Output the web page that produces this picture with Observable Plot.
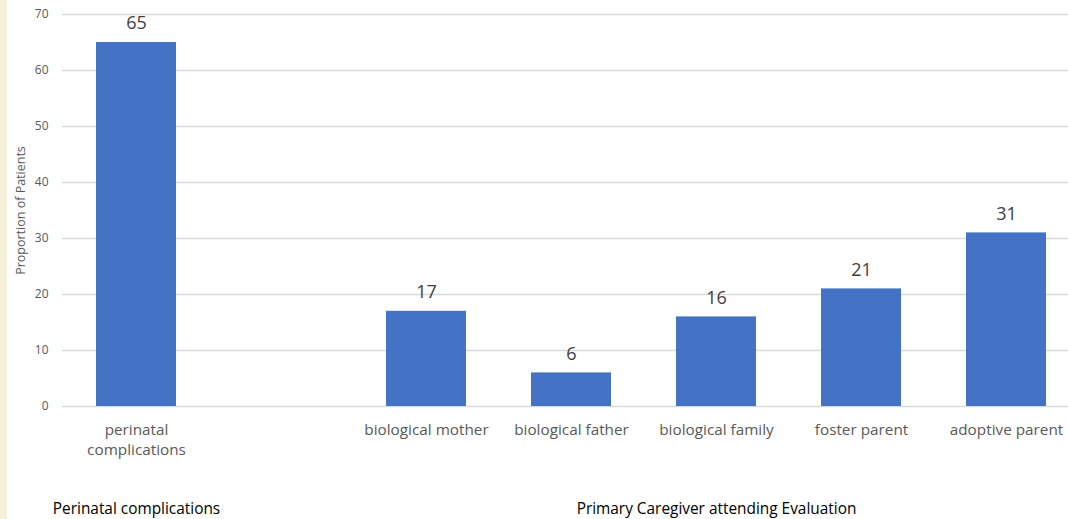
<!DOCTYPE html>
<html>
<head>
<meta charset="utf-8">
<script src="https://cdn.jsdelivr.net/npm/d3@7"></script>
<script src="https://cdn.jsdelivr.net/npm/@observablehq/plot@0.6"></script>
<style>
  html, body { margin: 0; padding: 0; background: #ffffff; overflow: hidden; }
  #chart { width: 1061px; height: 519px; border-left: 7px solid #f6efd9; background: #ffffff; }
  #chart svg { display: block; }
</style>
</head>
<body>
<div id="chart"></div>
<script>
// Proportion of patients by perinatal complications and by primary caregiver
const categories = [
  "perinatal\ncomplications",
  "biological mother",
  "biological father",
  "biological family",
  "foster parent",
  "adoptive parent"
];
const values = [65, 17, 6, 16, 21, 31];
const yTicks = [0, 10, 20, 30, 40, 50, 60, 70];
const groupLabels = ["Perinatal complications", "Primary Caregiver attending Evaluation"];
const groupAnchors = ["perinatal\ncomplications", "biological family"];

// a blank slot separates the two groups on the x axis
const gapKey = "\u200b";
const xDomain = [categories[0], gapKey, ...categories.slice(1)];

const rows = categories.map((c, i) => ({category: c, value: values[i]}));
const groups = groupLabels.map((g, i) => ({label: g, anchor: groupAnchors[i]}));

const font = "'Open Sans', 'Noto Sans', sans-serif";

const chart = Plot.plot({
  width: 1061,
  height: 519,
  marginLeft: 55,
  marginRight: 0,
  marginTop: 14,
  marginBottom: 113,
  style: {fontFamily: font, background: "#ffffff"},
  x: {
    domain: xDomain,
    range: [55.3, 1073.1],
    paddingInner: 0.45,
    paddingOuter: 0.225,
    label: null
  },
  y: {domain: [0, 70], label: null},
  marks: [
    Plot.ruleY(yTicks, {stroke: "#d9d9d9", strokeWidth: 1.5}),
    Plot.barY(rows, {x: "category", y: "value", fill: "#4472c4"}),
    Plot.text(rows, {
      x: "category", y: "value", text: d => String(d.value),
      dy: -19, fontSize: 18, fill: "#404040"
    }),
    Plot.axisY({
      ticks: yTicks, tickSize: 0, tickPadding: 14,
      fontSize: 12, color: "#595959", label: null
    }),
    Plot.text(["Proportion of Patients"], {
      frameAnchor: "left", textAnchor: "middle", dx: -42, rotate: -90,
      fontSize: 12.5, fill: "#595959"
    }),
    Plot.axisX({
      tickSize: 0, tickPadding: 14, fontSize: 15.3, lineHeight: 1.31,
      color: "#595959", label: null,
      tickFormat: d => d === gapKey ? "" : d
    }),
    Plot.text(groups, {
      x: "anchor", text: "label", frameAnchor: "bottom",
      dy: 107, fontSize: 15.4, fill: "#000000"
    })
  ]
});

document.getElementById("chart").appendChild(chart);
</script>
</body>
</html>
